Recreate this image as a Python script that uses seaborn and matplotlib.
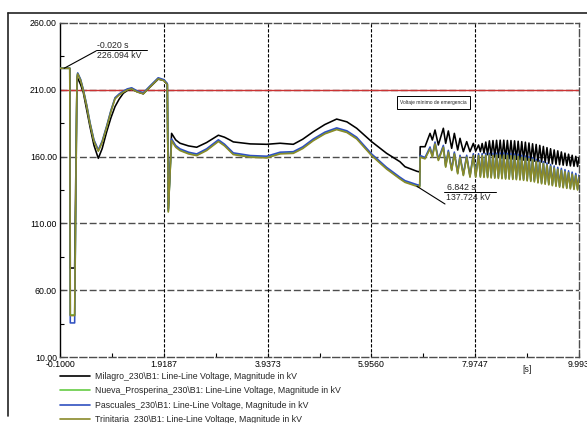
import numpy as np
import pandas as pd
import matplotlib
matplotlib.use("Agg")
import matplotlib.pyplot as plt
import seaborn as sns
from matplotlib.lines import Line2D
from matplotlib.patches import Rectangle
from matplotlib.ticker import FixedLocator

sns.set_theme(style="white")
plt.rcParams['font.family'] = ['Liberation Sans', 'DejaVu Sans']

# ---------------- data ----------------
names = [r"Milagro_230\B1: Line-Line Voltage, Magnitude in kV",
         r"Nueva_Prosperina_230\B1: Line-Line Voltage, Magnitude in kV",
         r"Pascuales_230\B1: Line-Line Voltage, Magnitude in kV",
         r"Trinitaria_230\B1: Line-Line Voltage, Magnitude in kV"]
colors = ["#000000", "#66cc44", "#3050c0", "#8a8a2a"]

t_pre = [-0.100, 0.090, 0.100, 0.185, 0.230, 0.244, 0.300, 0.353, 0.420, 0.483, 0.560, 0.645,
         0.720, 0.808, 0.890, 0.970, 1.050, 1.131, 1.210, 1.294, 1.400, 1.520, 1.650, 1.810,
         1.920, 1.987, 2.006, 2.070, 2.150, 2.234, 2.400, 2.558, 2.750, 2.980, 3.100, 3.206,
         3.270, 3.600, 3.920, 4.180, 4.437, 4.620, 4.826, 5.050, 5.280, 5.480, 5.670, 5.960,
         6.250, 6.510, 6.610, 6.842, 6.895]
milagro_pre = [226.1, 226.1, 76.6, 76.6, 216.0, 218.6, 214.0, 208.0, 195.0, 182.4, 168.5, 158.7,
               166.0, 178.6, 189.0, 197.4, 203.0, 207.4, 209.5, 210.5, 208.5, 207.0, 212.0, 218.0,
               217.0, 214.0, 121.0, 177.4, 172.5, 170.0, 168.0, 167.0, 170.5, 176.0, 174.5, 172.4,
               171.0, 169.5, 169.2, 170.0, 169.2, 173.0, 178.6, 184.0, 188.1, 186.0, 181.2, 171.2,
               162.5, 156.2, 152.4, 149.0, 148.5]
nueva_pre = [226.1, 226.1, 41.5, 41.5, 219.0, 222.3, 217.5, 209.8, 198.0, 185.0, 172.0, 164.4,
             171.0, 182.4, 194.0, 203.6, 206.5, 208.6, 210.3, 211.1, 208.8, 207.4, 212.5, 218.6,
             217.2, 214.3, 119.0, 172.4, 167.5, 165.0, 162.5, 161.2, 165.0, 171.8, 168.5, 164.5,
             162.0, 160.0, 159.5, 162.5, 162.9, 166.5, 172.4, 177.5, 180.7, 178.5, 173.7, 161.2,
             151.2, 143.8, 141.2, 138.2, 137.7]
pascuales_pre = [226.1, 226.1, 35.5, 35.5, 219.2, 222.6, 217.9, 210.3, 198.6, 185.6, 172.6, 165.0,
                 171.6, 183.0, 194.6, 204.1, 206.9, 209.0, 210.7, 211.5, 209.2, 207.8, 212.9, 219.0,
                 217.6, 214.7, 119.5, 173.2, 168.3, 165.8, 163.3, 162.0, 165.8, 172.6, 169.3, 165.3,
                 162.8, 160.8, 160.3, 163.3, 163.7, 167.3, 173.2, 178.3, 181.5, 179.3, 174.5, 162.0,
                 152.0, 144.6, 142.0, 139.0, 138.5]
trinitaria_pre = [226.1, 226.1, 41.0, 41.0, 218.6, 221.9, 217.1, 209.4, 197.6, 184.6, 171.6, 164.0,
                  170.6, 182.0, 193.6, 203.2, 206.1, 208.2, 209.9, 210.7, 208.4, 207.0, 212.1, 218.2,
                  216.8, 213.9, 118.5, 171.9, 167.0, 164.5, 162.0, 160.7, 164.5, 171.3, 168.0, 164.0,
                  161.5, 159.5, 159.0, 162.0, 162.4, 166.0, 171.9, 177.0, 180.2, 178.0, 173.2, 160.7,
                  150.7, 143.3, 140.7, 137.7, 137.2]

t_mid = [6.905, 6.998, 7.096, 7.141, 7.193, 7.258, 7.355, 7.400, 7.452, 7.517, 7.569, 7.634,
         7.679, 7.744, 7.809, 7.873, 7.938, 7.984]
milagro_mid = [167.4, 167.4, 177.4, 172.4, 179.9, 168.7, 181.2, 169.9, 179.2, 166.2, 177.4, 164.9,
               173.7, 163.7, 171.2, 163.7, 169.9, 164.2]
nueva_mid = [160.0, 158.7, 166.2, 160.0, 169.9, 157.5, 167.4, 152.5, 163.7, 150.0, 162.4, 147.5,
             160.0, 146.2, 160.0, 145.0, 161.2, 145.0]
pascuales_mid = [160.8, 159.3, 167.2, 160.6, 170.9, 158.1, 168.4, 153.1, 164.7, 150.6, 163.4, 148.1,
                 161.0, 146.8, 161.0, 145.6, 162.2, 145.6]
trinitaria_mid = [159.6, 158.3, 165.8, 159.6, 169.5, 157.1, 167.0, 152.1, 163.3, 149.6, 162.0, 147.1,
                  159.6, 145.8, 159.6, 144.6, 160.8, 144.6]

t_osc = [8.040, 8.075, 8.110, 8.145, 8.180, 8.215, 8.250, 8.285, 8.320, 8.355, 8.390, 8.425,
         8.460, 8.495, 8.530, 8.565, 8.600, 8.635, 8.670, 8.705, 8.740, 8.775, 8.810, 8.845,
         8.880, 8.915, 8.950, 8.985, 9.020, 9.055, 9.090, 9.125, 9.160, 9.195, 9.230, 9.265,
         9.300, 9.335, 9.370, 9.405, 9.440, 9.475, 9.510, 9.545, 9.580, 9.615, 9.650, 9.685,
         9.720, 9.755, 9.790, 9.825, 9.860, 9.895, 9.930, 9.965, 9.993]
milagro_osc = [168.7, 163.7, 169.8, 162.6, 170.9, 161.4, 171.8, 160.7, 172.0, 160.0, 172.2, 159.4,
               172.3, 158.7, 172.3, 158.5, 172.1, 158.3, 172.0, 158.1, 171.8, 157.9, 171.5, 157.6,
               171.2, 157.4, 170.8, 157.2, 170.2, 156.9, 169.6, 156.6, 169.1, 156.2, 168.4, 155.9,
               167.6, 155.5, 166.7, 155.0, 165.9, 154.6, 165.0, 154.2, 164.3, 153.9, 163.5, 153.6,
               162.6, 153.3, 161.8, 153.0, 161.0, 152.8, 160.2, 152.6, 159.2]
nueva_osc = [161.2, 145.0, 161.3, 144.8, 161.4, 144.6, 161.5, 144.4, 161.5, 144.2, 161.6, 144.0,
             161.7, 143.8, 161.7, 143.6, 161.5, 143.5, 161.3, 143.3, 161.0, 143.1, 160.7, 142.9,
             160.0, 142.6, 159.5, 142.2, 159.0, 141.8, 158.2, 141.4, 157.1, 140.7, 156.2, 140.0,
             155.3, 139.7, 154.3, 139.2, 153.1, 138.6, 152.0, 138.1, 151.0, 137.5, 150.2, 137.0,
             149.3, 136.6, 148.4, 136.2, 147.4, 135.8, 146.4, 135.4, 145.2]
pascuales_osc = [162.2, 145.6, 162.3, 145.4, 162.4, 145.2, 162.5, 145.0, 162.5, 144.8, 162.6, 144.6,
                 162.7, 144.4, 162.7, 144.2, 162.5, 144.1, 162.3, 143.9, 162.0, 143.7, 161.7, 143.5,
                 161.0, 143.2, 160.5, 142.8, 160.0, 142.4, 159.2, 142.0, 158.1, 141.3, 157.2, 140.6,
                 156.3, 140.3, 155.3, 139.8, 154.1, 139.2, 153.0, 138.7, 152.0, 138.1, 151.2, 137.6,
                 150.3, 137.2, 149.4, 136.8, 148.4, 136.4, 147.4, 136.0, 146.2]
trinitaria_osc = [160.7, 144.6, 160.8, 144.4, 160.9, 144.2, 161.0, 144.0, 161.0, 143.8, 161.1, 143.6,
                  161.2, 143.4, 161.2, 143.2, 161.0, 143.1, 160.8, 142.9, 160.5, 142.7, 160.2, 142.5,
                  159.5, 142.2, 159.0, 141.8, 158.5, 141.4, 157.7, 141.0, 156.6, 140.3, 155.7, 139.6,
                  154.8, 139.3, 153.8, 138.8, 152.6, 138.2, 151.5, 137.7, 150.5, 137.1, 149.7, 136.6,
                  148.8, 136.2, 147.9, 135.8, 146.9, 135.4, 145.9, 135.0, 144.7]

x_ticks = [-0.1, 1.9187, 3.9373, 5.9560, 7.9747, 9.993]
x_tick_labels = ["-0.1000", "1.9187", "3.9373", "5.9560", "7.9747", "9.993"]
y_ticks = [10, 60, 110, 160, 210, 260]
y_tick_labels = ["10.00", "60.00", "110.00", "160.00", "210.00", "260.00"]
limit_value = 210.0
limit_text = "Voltaje mínimo de emergencia"
ann1 = (-0.020, 226.094)
ann2 = (6.842, 137.724)

# ---------------- build long frame ----------------
t_all = t_pre + t_mid + t_osc
vals = [milagro_pre + milagro_mid + milagro_osc,
        nueva_pre + nueva_mid + nueva_osc,
        pascuales_pre + pascuales_mid + pascuales_osc,
        trinitaria_pre + trinitaria_mid + trinitaria_osc]
frames = []
for n, v in zip(names, vals):
    frames.append(pd.DataFrame({"t": t_all, "v": v, "series": n}))
df = pd.concat(frames, ignore_index=True)

W, H = 587, 423
fig = plt.figure(figsize=(W / 100, H / 100), dpi=100)
fig.patch.set_facecolor("white")
ax = fig.add_axes([60 / W, 1 - 357 / H, 519 / W, 334 / H])
ax.set_facecolor("white")

sns.lineplot(data=df, x="t", y="v", hue="series", hue_order=names,
             palette=dict(zip(names, colors)), estimator=None, sort=False,
             linewidth=1.15, ax=ax, legend=False, zorder=3)

ax.set_xlim(-0.1, 9.993)
ax.set_ylim(10, 260)
ax.set_xlabel("")
ax.set_ylabel("")

ax.set_xticks(x_ticks)
ax.set_xticklabels(x_tick_labels)
ax.set_yticks(y_ticks)
ax.set_yticklabels(y_tick_labels)
x_minor = [(a + b) / 2 for a, b in zip(x_ticks[:-1], x_ticks[1:])]
y_minor = [(a + b) / 2 for a, b in zip(y_ticks[:-1], y_ticks[1:])]
ax.xaxis.set_minor_locator(FixedLocator(x_minor))
ax.yaxis.set_minor_locator(FixedLocator(y_minor))
ax.tick_params(which="both", direction="in", length=3, width=0.8, color="black",
               labelsize=6.3, labelcolor="black")
ax.tick_params(axis="x", which="both", bottom=True, top=False, pad=2.5)
ax.tick_params(axis="y", which="both", left=True, right=False, pad=2.2)

# grid
for yv in y_ticks[1:-1]:
    ax.axhline(yv, color="#4d4d4d", lw=1.0, dashes=(5, 2), zorder=1)
for xv in x_ticks[1:-1]:
    ax.axvline(xv, color="black", lw=0.8, dashes=(3, 1.5), zorder=1)

# spines
ax.spines["left"].set_color("black")
ax.spines["left"].set_linewidth(1.0)
for s in ["top", "bottom", "right"]:
    ax.spines[s].set_color("#4d4d4d")
    ax.spines[s].set_linewidth(1.0)
    ax.spines[s].set_linestyle((0, (5, 2)))

# emergency limit
ax.axhline(limit_value, color="#cc3333", lw=1.0, zorder=2)
ax.add_patch(Rectangle((0.6493, 0.7425), 0.1407, 0.0389, transform=ax.transAxes,
                       facecolor="white", edgecolor="black", lw=0.7, zorder=4))
ax.text(0.7187, 0.7620, limit_text, transform=ax.transAxes, ha="center", va="center",
        fontsize=3.5, zorder=5)

# x unit label
ax.text(8.984, -0.024, "[s]", transform=ax.get_xaxis_transform(), ha="center", va="top",
        fontsize=6.3)

def fpx(x, y):
    return (x / W, 1 - y / H)

# annotations
ax.annotate("", xy=ann1, xycoords="data", xytext=fpx(96, 51), textcoords="figure fraction",
            arrowprops=dict(arrowstyle="-", lw=0.8, color="black", shrinkA=0, shrinkB=0))
fig.add_artist(Line2D([96 / W, 147 / W], [1 - 50 / H, 1 - 50 / H], color="black", lw=0.7))
fig.text(*fpx(97, 46), f"{ann1[0]:.3f} s", ha="left", va="center", fontsize=6.3)
fig.text(*fpx(97, 56), f"{ann1[1]:.3f} kV", ha="left", va="center", fontsize=6.3)

ax.annotate("", xy=ann2, xycoords="data", xytext=fpx(445, 204), textcoords="figure fraction",
            arrowprops=dict(arrowstyle="-", lw=0.8, color="black", shrinkA=0, shrinkB=0))
fig.add_artist(Line2D([444 / W, 496 / W], [1 - 192.3 / H, 1 - 192.3 / H], color="black", lw=0.7))
fig.text(*fpx(447, 187.5), f"{ann2[0]:.3f} s", ha="left", va="center", fontsize=6.3)
fig.text(*fpx(446, 197.5), f"{ann2[1]:.3f} kV", ha="left", va="center", fontsize=6.3)

# outer frame
fig.add_artist(Line2D([8 / W, 1.0], [1 - 13 / H, 1 - 13 / H], color="#222222", lw=1.2))
fig.add_artist(Line2D([8 / W, 8 / W], [1 - 13 / H, 1 - 416 / H], color="#222222", lw=1.2))

# legend
handles = [Line2D([], [], color=c, lw=1.2) for c in colors]
fig.legend(handles, names, loc="upper left", bbox_to_anchor=fpx(60, 372),
           bbox_transform=fig.transFigure, frameon=False, fontsize=6.3,
           handlelength=3.4, handletextpad=0.55, labelspacing=0.62,
           borderpad=0, borderaxespad=0)

fig.savefig("out.png", dpi=100)
